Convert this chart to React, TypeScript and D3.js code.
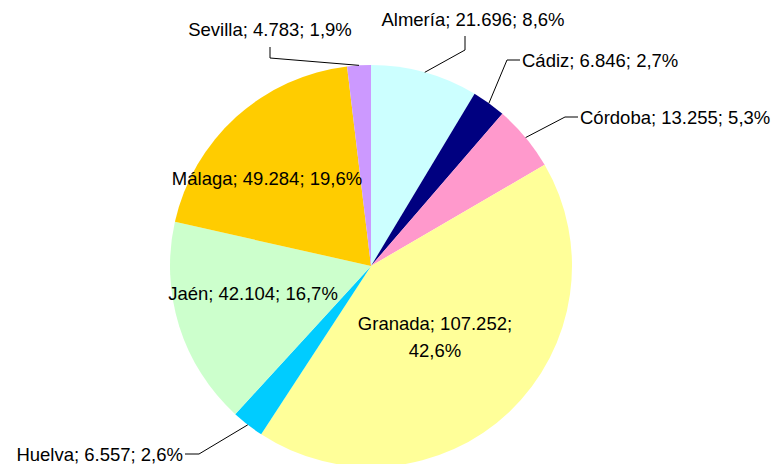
import * as d3 from "d3";
import React, { useEffect, useRef } from "react";

// provinces and values
const provinces = ["Almería", "Cádiz", "Córdoba", "Granada", "Huelva", "Jaén", "Málaga", "Sevilla"];
const values = [21696, 6846, 13255, 107252, 6557, 42104, 49284, 4783];
const colors = ["#CCFFFF", "#000080", "#FF99CC", "#FFFF99", "#00CCFF", "#CCFFCC", "#FFCC00", "#CC99FF"];

// label placement (text anchor point, optional elbow for leader line)
const labelLayout: Record<string, any> = {
  "Almería": { x: 473, y: 19, anchor: "middle", elbow: [[465, 50], [465, 36]] },
  "Cádiz": { x: 522, y: 60, anchor: "start", elbow: [[507, 60], [520, 60]] },
  "Córdoba": { x: 580, y: 117, anchor: "start", elbow: [[565, 117], [578, 117]] },
  "Granada": { x: 435, y: 323, anchor: "middle", lines: 2 },
  "Huelva": { x: 183, y: 454, anchor: "end", elbow: [[199, 454], [185, 454]] },
  "Jaén": { x: 253, y: 293, anchor: "middle" },
  "Málaga": { x: 267, y: 178, anchor: "middle" },
  "Sevilla": { x: 270, y: 29, anchor: "middle", elbow: [[270, 58], [270, 47]] },
};

const fmtNum = (v: number) => d3.format(",")(v).replace(/,/g, ".");
const fmtPct = (p: number) => d3.format(".1f")(p * 100).replace(".", ",") + "%";

const App = () => {
  const ref = useRef<SVGSVGElement>(null);

  useEffect(() => {
    const svg = d3.select(ref.current);
    svg.selectAll("*").remove();

    const width = 774;
    const height = 464;
    const cx = 371;
    const cy = 266;
    const radius = 201;

    const data = provinces.map((name, i) => ({ name, value: values[i], color: colors[i] }));
    const total = d3.sum(values);

    const pie = d3.pie<any>().sort(null).value((d) => d.value);
    const arcs = pie(data);
    const arc = d3.arc<any>().innerRadius(0).outerRadius(radius);

    svg.attr("width", width).attr("height", height);

    const g = svg.append("g").attr("transform", `translate(${cx},${cy})`);

    g.selectAll("path")
      .data(arcs)
      .enter()
      .append("path")
      .attr("d", arc)
      .attr("fill", (d) => d.data.color);

    // leader lines
    arcs.forEach((a) => {
      const lay = labelLayout[a.data.name];
      if (!lay.elbow) return;
      const mid = (a.startAngle + a.endAngle) / 2;
      const p0: [number, number] = [cx + radius * Math.sin(mid), cy - radius * Math.cos(mid)];
      svg
        .append("polyline")
        .attr("points", [p0, ...lay.elbow].map((p) => p.join(",")).join(" "))
        .attr("fill", "none")
        .attr("stroke", "#000")
        .attr("stroke-width", 1);
    });

    // labels
    arcs.forEach((a) => {
      const lay = labelLayout[a.data.name];
      const full = `${a.data.name}; ${fmtNum(a.data.value)}; ${fmtPct(a.data.value / total)}`;
      const t = svg
        .append("text")
        .attr("x", lay.x)
        .attr("y", lay.y)
        .attr("text-anchor", lay.anchor)
        .attr("dominant-baseline", "central")
        .attr("font-family", "'Liberation Sans', Arial, sans-serif")
        .attr("font-size", 18.5)
        .attr("fill", "#000");
      if (lay.lines === 2) {
        t.append("tspan").attr("x", lay.x).attr("dy", 0).text(`${a.data.name}; ${fmtNum(a.data.value)};`);
        t.append("tspan").attr("x", lay.x).attr("dy", 27).text(fmtPct(a.data.value / total));
      } else {
        t.text(full);
      }
    });
  }, []);

  return <svg ref={ref} style={{ position: "absolute", left: 0, top: 0, background: "#fff" }} />;
};

export default App;
